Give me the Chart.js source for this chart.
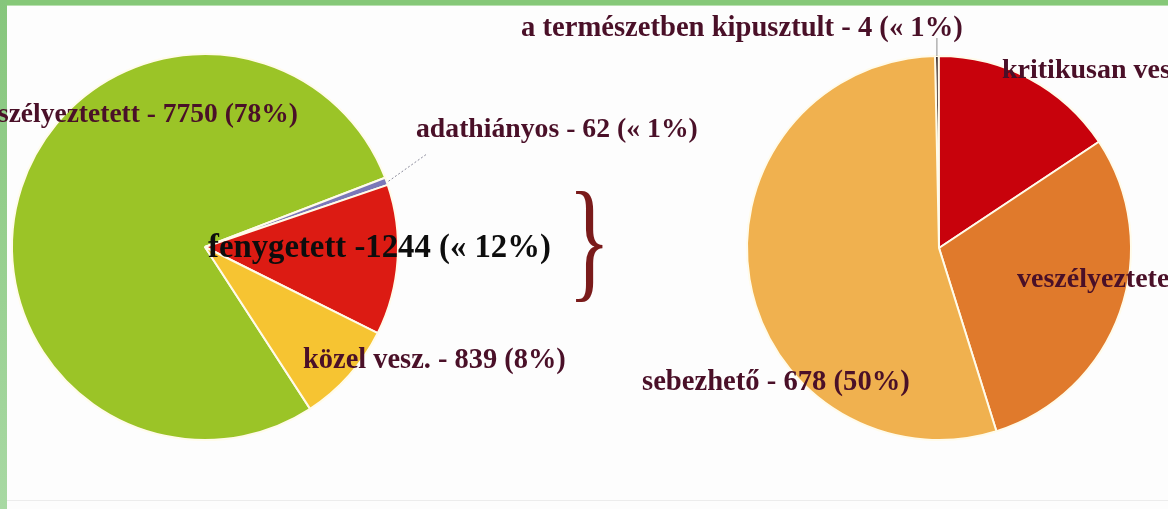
<!DOCTYPE html>
<html lang="hu">
<head>
<meta charset="utf-8">
<title>Fajok veszélyeztetettsége</title>
<script src="https://cdn.jsdelivr.net/npm/chart.js@4.4.1/dist/chart.umd.min.js"></script>
<style>
  html, body { margin: 0; padding: 0; }
  body { width: 1168px; height: 509px; position: relative; overflow: hidden; background: #fdfdfd; }
  #frameTop { position: absolute; left: 0; top: 0; width: 1168px; height: 5px; background: #86c878; border-bottom: 1px solid #b9e0b0; }
  #frameLeft { position: absolute; left: 0; top: 0; width: 7px; height: 509px; background: linear-gradient(#86c67c, #a8d9a3); }
  #frameBottom { position: absolute; left: 7px; top: 500px; width: 1161px; height: 1px; background: #ececec; }
  canvas { position: absolute; left: 0; top: 0; }
</style>
</head>
<body>
<div id="frameTop"></div>
<div id="frameLeft"></div>
<div id="frameBottom"></div>
<canvas id="chartLeft" width="1168" height="509"></canvas>
<canvas id="chartRight" width="1168" height="509"></canvas>
<script>
// Bal oldali kör: összes faj
const leftCategories = ["nem veszélyeztetett", "adathiányos", "fenygetett", "közel vesz."];
const leftValues = [7750, 62, 1244, 839];
const leftLabels = [
  "nem veszélyeztetett - 7750 (78%)",
  "adathiányos - 62 (« 1%)",
  "fenygetett -1244 (« 12%)",
  "közel vesz. - 839 (8%)",
];
const leftColors = ["#9bc427", "#7b78b8", "#dc1b13", "#f6c432"];

// Jobb oldali kör: a fenyegetett fajok bontása
const rightCategories = ["a természetben kipusztult", "kritikusan veszélyeztetett", "veszélyeztetett", "sebezhető"];
const rightValues = [4, 195, 367, 678];
const rightLabels = [
  "a természetben kipusztult - 4 (« 1%)",
  "kritikusan veszélyeztetett - 195 (16%)",
  "veszélyeztetett - 367 (30%)",
  "sebezhető - 678 (50%)",
];
const rightColors = ["#3b2a2a", "#c8020c", "#e07a2c", "#f0b14f"];

const textColor = "#4a1028";
const fontFamily = "'Liberation Serif', 'DejaVu Serif', serif";

// Felirat helyek (x, alapvonal, szélesség vagy betűméret, igazítás)
const leftLabelPos = [
  { x: 298, y: 122, size: 27.5, align: "right" },
  { x: 416, y: 137, width: 282 },
  { x: 208, y: 257, width: 343, color: "#0d0d0d" },
  { x: 303, y: 368, width: 263 },
];
const rightLabelPos = [
  { x: 521, y: 36, width: 442 },
  { x: 1002, y: 78, size: 28 },
  { x: 1017, y: 287, size: 28 },
  { x: 642, y: 390, width: 268 },
];

// Szöveg rajzolása adott szélességre illesztve
function drawLabel(ctx, text, pos) {
  let size = pos.size || 24;
  ctx.font = `bold ${size}px ${fontFamily}`;
  if (pos.width) {
    size = size * pos.width / ctx.measureText(text).width;
    ctx.font = `bold ${size}px ${fontFamily}`;
  }
  ctx.fillStyle = pos.color || textColor;
  ctx.textAlign = pos.align || "left";
  ctx.textBaseline = "alphabetic";
  ctx.fillText(text, pos.x, pos.y);
}

// Pont a szelet külső ívén
function arcPoint(arc, frac) {
  const a = arc.startAngle + (arc.endAngle - arc.startAngle) * frac;
  return { x: arc.x + Math.cos(a) * arc.outerRadius, y: arc.y + Math.sin(a) * arc.outerRadius };
}

const leftLabelPlugin = {
  id: "leftLabels",
  afterDatasetsDraw(chart) {
    const ctx = chart.ctx;
    const arcs = chart.getDatasetMeta(0).data;
    ctx.save();
    // vonal az adathiányos szelettől
    const p = arcPoint(arcs[1], 0.5);
    ctx.strokeStyle = "#8a8a9a";
    ctx.lineWidth = 1;
    ctx.setLineDash([2, 2]);
    ctx.beginPath();
    ctx.moveTo(p.x + 2, p.y);
    ctx.lineTo(p.x + 40, p.y - 27);
    ctx.stroke();
    ctx.setLineDash([]);
    leftLabels.forEach((t, i) => drawLabel(ctx, t, leftLabelPos[i]));

    // kapcsos zárójel a két kör között
    ctx.font = `118px ${fontFamily}`;
    const m = ctx.measureText("}");
    const h = m.actualBoundingBoxAscent + m.actualBoundingBoxDescent;
    const sy = 112 / h;
    ctx.translate(568, 190);
    ctx.scale(0.75, sy);
    ctx.fillStyle = "#7a1b1b";
    ctx.textAlign = "left";
    ctx.fillText("}", 0, m.actualBoundingBoxAscent);
    ctx.restore();
  },
};

const rightLabelPlugin = {
  id: "rightLabels",
  afterDatasetsDraw(chart) {
    const ctx = chart.ctx;
    const arcs = chart.getDatasetMeta(0).data;
    ctx.save();
    // vonal a kipusztult szelettől
    const p = arcPoint(arcs[0], 0.5);
    ctx.strokeStyle = "#8c8c8c";
    ctx.lineWidth = 1;
    ctx.beginPath();
    ctx.moveTo(p.x, p.y);
    ctx.lineTo(p.x, p.y - 18);
    ctx.stroke();
    rightLabels.forEach((t, i) => drawLabel(ctx, t, rightLabelPos[i]));
    ctx.restore();
  },
};

function makePie(id, categories, values, colors, rotation, padding, plugin) {
  const ctx = document.getElementById(id).getContext("2d");
  return new Chart(ctx, {
    type: "pie",
    data: {
      labels: categories,
      datasets: [
        {
          data: values,
          backgroundColor: colors,
          borderColor: "#fffbea",
          borderWidth: 2,
          hoverOffset: 0,
        },
      ],
    },
    options: {
      responsive: false,
      animation: false,
      rotation: rotation,
      layout: { padding: padding },
      plugins: {
        legend: { display: false },
        tooltip: { enabled: false },
      },
    },
    plugins: [plugin],
  });
}

makePie("chartLeft", leftCategories, leftValues, leftColors, -213,
  { left: 11, top: 53, right: 769, bottom: 68 }, leftLabelPlugin);
makePie("chartRight", rightCategories, rightValues, rightColors, -1.2,
  { left: 746, top: 55, right: 36, bottom: 68 }, rightLabelPlugin);
</script>
</body>
</html>
